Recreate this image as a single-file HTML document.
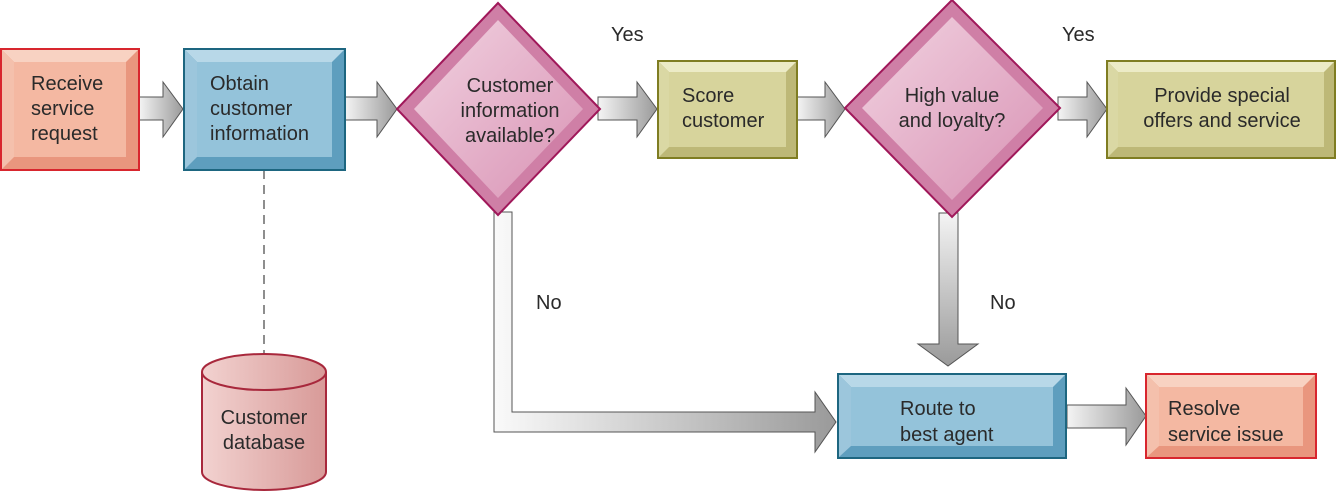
<!DOCTYPE html>
<html><head><meta charset="utf-8"><style>
html,body{margin:0;padding:0;background:#fff;}
svg{display:block;}
text{font-family:"Liberation Sans",Arial,sans-serif;font-size:20px;fill:#2a2a2a;}
</style></head><body>
<svg width="1336" height="492" viewBox="0 0 1336 492" xmlns="http://www.w3.org/2000/svg">
<defs>
<linearGradient id="arH" x1="0" y1="0" x2="1" y2="0"><stop offset="0" stop-color="#f4f4f4"/><stop offset="1" stop-color="#9a9a9a"/></linearGradient>
<linearGradient id="arV" x1="0" y1="0" x2="0" y2="1"><stop offset="0" stop-color="#f4f4f4"/><stop offset="1" stop-color="#9a9a9a"/></linearGradient>
<linearGradient id="arL" x1="0" y1="0" x2="1" y2="0"><stop offset="0" stop-color="#fafafa"/><stop offset="1" stop-color="#9a9a9a"/></linearGradient>
<linearGradient id="cyl" x1="0" y1="0" x2="1" y2="0"><stop offset="0" stop-color="#f2d2d0"/><stop offset="1" stop-color="#d89a98"/></linearGradient>
<linearGradient id="dia" x1="0" y1="0" x2="1" y2="1"><stop offset="0" stop-color="#f1d2e0"/><stop offset="1" stop-color="#d993b5"/></linearGradient>
</defs>

<g stroke="#555" stroke-width="1" fill="url(#arH)">
<polygon points="139,97 163,97 163,82 183,109 163,137 163,120 139,120"/>
<polygon points="345,97 377,97 377,82 397,109 377,137 377,120 345,120"/>
<polygon points="598,97 637,97 637,82 657,109 637,137 637,120 598,120"/>
<polygon points="797,97 825,97 825,82 845,109 825,137 825,120 797,120"/>
<polygon points="1058,97 1087,97 1087,82 1107,109 1087,137 1087,120 1058,120"/>
<polygon points="1067,405 1126,405 1126,388 1146,416 1126,445 1126,428 1067,428"/>
</g>
<polygon points="494,212 512,212 512,412 815,412 815,392 836,422 815,452 815,432 494,432" fill="url(#arL)" stroke="#555" stroke-width="1"/>
<polygon points="939,213 958,213 958,344 978,344 948,366 918,344 939,344" fill="url(#arV)" stroke="#555" stroke-width="1"/>

<line x1="264" y1="170" x2="264" y2="355" stroke="#444" stroke-width="1.2" stroke-dasharray="9,6"/>

<rect x="1" y="49" width="138" height="121" fill="#e9967e" stroke="#d8262e" stroke-width="2"/>
<polygon points="2,50 138,50 126,62 14,62" fill="#f8d2c2"/>
<polygon points="2,50 14,62 14,157 2,169" fill="#f4c0ac"/>
<rect x="14" y="62" width="112" height="95" fill="#f4b8a2"/>
<rect x="184" y="49" width="161" height="121" fill="#5e9ebe" stroke="#1d6680" stroke-width="2"/>
<polygon points="185,50 344,50 332,62 197,62" fill="#b8d8e8"/>
<polygon points="185,50 197,62 197,157 185,169" fill="#9cc6dc"/>
<rect x="197" y="62" width="135" height="95" fill="#94c3da"/>
<rect x="658" y="61" width="139" height="97" fill="#bdb877" stroke="#7f7d22" stroke-width="2"/>
<polygon points="659,62 796,62 786,72 669,72" fill="#ecebc6"/>
<polygon points="659,62 669,72 669,147 659,157" fill="#dad8a4"/>
<rect x="669" y="72" width="117" height="75" fill="#d7d49c"/>
<rect x="1107" y="61" width="228" height="97" fill="#bdb877" stroke="#7f7d22" stroke-width="2"/>
<polygon points="1108,62 1334,62 1324,72 1118,72" fill="#ecebc6"/>
<polygon points="1108,62 1118,72 1118,147 1108,157" fill="#dad8a4"/>
<rect x="1118" y="72" width="206" height="75" fill="#d7d49c"/>
<rect x="838" y="374" width="228" height="84" fill="#5e9ebe" stroke="#1d6680" stroke-width="2"/>
<polygon points="839,375 1065,375 1053,387 851,387" fill="#b8d8e8"/>
<polygon points="839,375 851,387 851,446 839,457" fill="#9cc6dc"/>
<rect x="851" y="387" width="202" height="59" fill="#94c3da"/>
<rect x="1146" y="374" width="170" height="84" fill="#e9967e" stroke="#d8262e" stroke-width="2"/>
<polygon points="1147,375 1315,375 1303,387 1159,387" fill="#f8d2c2"/>
<polygon points="1147,375 1159,387 1159,446 1147,457" fill="#f4c0ac"/>
<rect x="1159" y="387" width="144" height="59" fill="#f4b8a2"/>

<polygon points="498,3 600,109 498,215 397,109" fill="#cf7fa6" stroke="#a0185a" stroke-width="2"/>
<polygon points="498,20 583,109 498,198 414,109" fill="url(#dia)"/>
<polygon points="952,0 1060,108 952,217 845,108" fill="#cf7fa6" stroke="#a0185a" stroke-width="2"/>
<polygon points="952,17 1043,108 952,200 862,108" fill="url(#dia)"/>

<path d="M202,372 L202,472 A62,18 0 0 0 326,472 L326,372" fill="url(#cyl)" stroke="#a8283c" stroke-width="2"/>
<ellipse cx="264" cy="372" rx="62" ry="18" fill="url(#cyl)" stroke="#a8283c" stroke-width="2"/>

<text x="31" y="90">Receive</text>
<text x="31" y="115">service</text>
<text x="31" y="140">request</text>
<text x="210" y="90">Obtain</text>
<text x="210" y="115">customer</text>
<text x="210" y="140">information</text>
<text x="510" y="92" text-anchor="middle">Customer</text>
<text x="510" y="117" text-anchor="middle">information</text>
<text x="510" y="142" text-anchor="middle">available?</text>
<text x="682" y="102">Score</text>
<text x="682" y="127">customer</text>
<text x="952" y="102" text-anchor="middle">High value</text>
<text x="952" y="127" text-anchor="middle">and loyalty?</text>
<text x="1222" y="102" text-anchor="middle">Provide special</text>
<text x="1222" y="127" text-anchor="middle">offers and service</text>
<text x="900" y="415">Route to</text>
<text x="900" y="441">best agent</text>
<text x="1168" y="415">Resolve</text>
<text x="1168" y="441">service issue</text>
<text x="264" y="424" text-anchor="middle">Customer</text>
<text x="264" y="449" text-anchor="middle">database</text>
<text x="611" y="41">Yes</text>
<text x="1062" y="41">Yes</text>
<text x="536" y="309">No</text>
<text x="990" y="309">No</text>
</svg>
</body></html>
